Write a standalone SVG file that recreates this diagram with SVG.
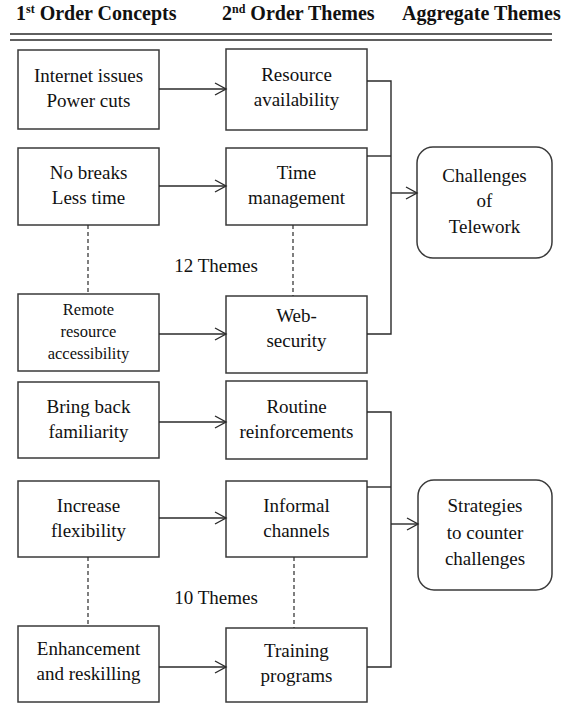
<svg xmlns="http://www.w3.org/2000/svg" width="573" height="704" viewBox="0 0 573 704">
<defs>
<marker id="ah" markerUnits="userSpaceOnUse" markerWidth="14" markerHeight="14" refX="12" refY="7" orient="auto">
<path d="M1,1 L12,7 L1,13" fill="none" stroke="#2a2a2a" stroke-width="1.4"/>
</marker>
</defs>
<rect x="0" y="0" width="573" height="704" fill="#fff"/>
<g font-family="Liberation Serif" font-size="19" fill="#111" text-anchor="middle">
<g id="n1"><rect x="18" y="50" width="141" height="79" fill="#fff" stroke="#3a3a3a" stroke-width="1.5"/><text x="88.5" y="82">Internet issues</text><text x="88.5" y="107">Power cuts</text></g>
<g id="n2"><rect x="18" y="148" width="141" height="77" fill="#fff" stroke="#3a3a3a" stroke-width="1.5"/><text x="88.5" y="179">No breaks</text><text x="88.5" y="204">Less time</text></g>
<g id="n3"><rect x="18" y="294" width="141" height="77" fill="#fff" stroke="#3a3a3a" stroke-width="1.5"/><text x="88.5" y="315" font-size="16.5">Remote</text><text x="88.5" y="337" font-size="16.5">resource</text><text x="88.5" y="359" font-size="16.5">accessibility</text></g>
<g id="n4"><rect x="226" y="49" width="141" height="81" fill="#fff" stroke="#3a3a3a" stroke-width="1.5"/><text x="296.5" y="81">Resource</text><text x="296.5" y="106">availability</text></g>
<g id="n5"><rect x="226" y="148" width="141" height="77" fill="#fff" stroke="#3a3a3a" stroke-width="1.5"/><text x="296.5" y="179">Time</text><text x="296.5" y="204">management</text></g>
<g id="n6"><rect x="226" y="296" width="141" height="77" fill="#fff" stroke="#3a3a3a" stroke-width="1.5"/><text x="296.5" y="322">Web-</text><text x="296.5" y="347">security</text></g>
<g id="n7"><rect x="417" y="147" width="135" height="111" rx="16" fill="#fff" stroke="#3a3a3a" stroke-width="1.5"/><text x="484.5" y="182">Challenges</text><text x="484.5" y="207">of</text><text x="484.5" y="233">Telework</text></g>
<g id="label12"><text x="216" y="272">12 Themes</text></g>
<g id="n8"><rect x="18" y="382" width="141" height="76" fill="#fff" stroke="#3a3a3a" stroke-width="1.5"/><text x="88.5" y="413">Bring back</text><text x="88.5" y="438">familiarity</text></g>
<g id="n9"><rect x="18" y="481" width="141" height="76" fill="#fff" stroke="#3a3a3a" stroke-width="1.5"/><text x="88.5" y="512">Increase</text><text x="88.5" y="537">flexibility</text></g>
<g id="n10"><rect x="18" y="626" width="141" height="76" fill="#fff" stroke="#3a3a3a" stroke-width="1.5"/><text x="88.5" y="655">Enhancement</text><text x="88.5" y="680">and reskilling</text></g>
<g id="n11"><rect x="226" y="381" width="141" height="78" fill="#fff" stroke="#3a3a3a" stroke-width="1.5"/><text x="296.5" y="413">Routine</text><text x="296.5" y="438">reinforcements</text></g>
<g id="n12"><rect x="226" y="481" width="141" height="76" fill="#fff" stroke="#3a3a3a" stroke-width="1.5"/><text x="296.5" y="512">Informal</text><text x="296.5" y="537">channels</text></g>
<g id="n13"><rect x="226" y="628" width="141" height="74" fill="#fff" stroke="#3a3a3a" stroke-width="1.5"/><text x="296.5" y="657">Training</text><text x="296.5" y="682">programs</text></g>
<g id="n14"><rect x="418" y="480" width="134" height="110" rx="16" fill="#fff" stroke="#3a3a3a" stroke-width="1.5"/><text x="485" y="512">Strategies</text><text x="485" y="539">to counter</text><text x="485" y="565">challenges</text></g>
<g id="label10"><text x="216" y="604">10 Themes</text></g>
</g>
<g id="connectors" fill="none" stroke="#2a2a2a" stroke-width="1.4">
<line x1="159" y1="89" x2="226" y2="89" marker-end="url(#ah)"/>
<line x1="159" y1="186" x2="226" y2="186" marker-end="url(#ah)"/>
<line x1="159" y1="334" x2="226" y2="334" marker-end="url(#ah)"/>
<line x1="159" y1="422" x2="226" y2="422" marker-end="url(#ah)"/>
<line x1="159" y1="518" x2="226" y2="518" marker-end="url(#ah)"/>
<line x1="159" y1="667" x2="226" y2="667" marker-end="url(#ah)"/>
<polyline points="367,81 391,81 391,334 367,334"/>
<line x1="367" y1="156" x2="391" y2="156"/>
<line x1="391" y1="193" x2="417" y2="193" marker-end="url(#ah)"/>
<polyline points="367,412 391,412 391,667 367,667"/>
<line x1="367" y1="487" x2="391" y2="487"/>
<line x1="391" y1="524" x2="418" y2="524" marker-end="url(#ah)"/>
<g stroke-width="1.2" stroke-dasharray="4,3">
<line x1="88" y1="225" x2="88" y2="294"/>
<line x1="293" y1="225" x2="293" y2="296"/>
<line x1="88" y1="557" x2="88" y2="626"/>
<line x1="294" y1="557" x2="294" y2="628"/>
</g>
</g>
<g id="header" font-family="Liberation Serif" font-size="20" font-weight="bold" fill="#111">
<text x="16" y="20">1<tspan font-size="12" dy="-7">st</tspan><tspan dy="7"> Order Concepts</tspan></text>
<text x="222" y="20">2<tspan font-size="12" dy="-7">nd</tspan><tspan dy="7"> Order Themes</tspan></text>
<text x="402" y="20">Aggregate Themes</text>
<line x1="10" y1="34" x2="552" y2="34" stroke="#2a2a2a" stroke-width="1.6"/>
<line x1="10" y1="40" x2="552" y2="40" stroke="#2a2a2a" stroke-width="1.6"/>
</g>
</svg>
